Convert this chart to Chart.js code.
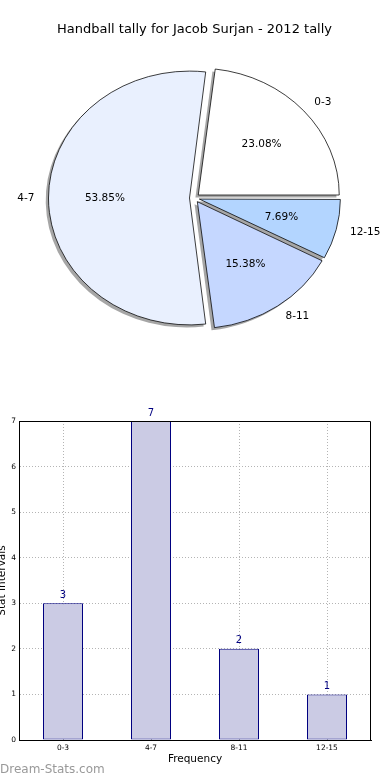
<!DOCTYPE html>
<html><head><meta charset="utf-8">
<script src="https://cdn.jsdelivr.net/npm/chart.js@4.4.1/dist/chart.umd.min.js"></script>
<style>
html,body{margin:0;padding:0;background:#fff;width:390px;height:780px;overflow:hidden;}
#pieWrap{position:absolute;left:0;top:0;width:390px;height:400px;}
#barWrap{position:absolute;left:0;top:400px;width:390px;height:380px;}
#wm{position:absolute;left:0;top:762px;font:12px "DejaVu Sans";line-height:14px;color:#999;}
</style></head><body>
<div id="pieWrap"><canvas id="pie" width="390" height="400"></canvas></div>
<div id="barWrap"><canvas id="bar" width="390" height="380"></canvas></div>
<div id="wm">Dream-Stats.com</div>
<script>
const chartTitle = 'Handball tally for Jacob Surjan - 2012 tally';
const categories = ['0-3', '4-7', '8-11', '12-15'];
const counts = [3, 7, 2, 1];
const yTicks = [0, 1, 2, 3, 4, 5, 6, 7];
const pieColors = ['#ffffff', '#e9f0fe', '#c5d7ff', '#b3d5ff'];
const xTitle = 'Frequency';
const yTitle = 'Stat Intervals';

const FONT = 'DejaVu Sans';
const K = 0.9;              // vertical squash of the pie (ellipse)
const SHX = -2.8, SHY = 2.5; // shadow shift (screen px)

// matplotlib draws counter-clockwise from east; Chart.js draws clockwise, so reverse
const pieLabels = categories.slice().reverse();
const pieValues = counts.slice().reverse();
const pieBg = pieColors.slice().reverse();
const total = counts.reduce((a, b) => a + b, 0);

function arcGeom(a) {
  const off = (a.options.offset || 0) / 4;
  const fix = 1 - Math.sin(Math.min(Math.PI, a.circumference));
  const R = a.outerRadius + off * fix;
  const mid = (a.startAngle + a.endAngle) / 2;
  return {off, R, mid};
}

const piePlugin = {
  id: 'pieStyle',
  afterUpdate(chart) {
    const meta = chart.getDatasetMeta(0);
    meta.data.forEach(a => {
      const off = (a.options.offset || 0) / 4;
      const fix = 1 - Math.sin(Math.min(Math.PI, a.circumference));
      a.outerRadius = a.outerRadius - off * fix;
    });
  },
  beforeDatasetsDraw(chart) {
    const ctx = chart.ctx;
    const meta = chart.getDatasetMeta(0);
    const cx = meta.data[0].x, cy = meta.data[0].y;
    ctx.save();
    ctx.translate(cx, cy); ctx.scale(1, K); ctx.translate(-cx, -cy);
    meta.data.forEach(a => {
      const g = arcGeom(a);
      const x = a.x + Math.cos(g.mid) * g.off + SHX;
      const y = a.y + Math.sin(g.mid) * g.off + SHY / K;
      ctx.beginPath();
      ctx.moveTo(x, y);
      ctx.arc(x, y, g.R, a.startAngle, a.endAngle);
      ctx.closePath();
      ctx.fillStyle = 'rgba(77,77,77,0.5)';
      ctx.fill();
    });
  },
  afterDatasetsDraw(chart) {
    const ctx = chart.ctx;
    ctx.restore();
    const meta = chart.getDatasetMeta(0);
    ctx.save();
    ctx.font = '10.5px "' + FONT + '"';
    ctx.fillStyle = '#000';
    ctx.textBaseline = 'middle';
    meta.data.forEach((a, i) => {
      const g = arcGeom(a);
      const c = Math.cos(g.mid), s = Math.sin(g.mid);
      const pct = (pieValues[i] / total * 100).toFixed(2) + '%';
      ctx.textAlign = 'center';
      ctx.fillText(pct, a.x + (g.off + 0.6 * g.R) * c, a.y + (g.off + 0.6 * g.R) * s * K);
      ctx.textAlign = c > 0 ? 'left' : 'right';
      ctx.fillText(pieLabels[i], a.x + (g.off + 1.1 * g.R) * c, a.y + (g.off + 1.1 * g.R) * s * K);
    });
    ctx.restore();
  }
};

new Chart(document.getElementById('pie'), {
  type: 'pie',
  data: {
    labels: pieLabels,
    datasets: [{
      data: pieValues,
      backgroundColor: pieBg,
      borderColor: '#000',
      borderWidth: 0.8,
      offset: 20
    }]
  },
  options: {
    responsive: false,
    animation: false,
    events: [],
    rotation: 90,
    radius: 141,
    layout: {padding: {left: 0, right: 1, top: 0, bottom: 41.6}},
    plugins: {
      legend: {display: false},
      tooltip: {enabled: false},
      title: {
        display: true, text: chartTitle, color: '#000',
        font: {family: FONT, size: 13, weight: 'normal'},
        padding: {top: 22, bottom: 0}
      }
    }
  },
  plugins: [piePlugin]
});

const framePlugin = {
  id: 'frame',
  afterDraw(chart) {
    const {ctx, chartArea: ca} = chart;
    ctx.save();
    ctx.strokeStyle = '#000';
    ctx.lineWidth = 1;
    const t = Math.round(ca.top) + 0.5, r = Math.round(ca.right) - 0.5;
    ctx.beginPath();
    ctx.moveTo(Math.round(ca.left), t);
    ctx.lineTo(r, t);
    ctx.lineTo(r, Math.round(ca.bottom));
    ctx.stroke();
    // value labels
    const meta = chart.getDatasetMeta(0);
    ctx.font = '10px "' + FONT + '"';
    ctx.fillStyle = '#000080';
    ctx.textAlign = 'center';
    ctx.textBaseline = 'alphabetic';
    meta.data.forEach((b, i) => {
      ctx.fillText(String(counts[i]), b.x, b.y - 5.5);
    });
    ctx.restore();
  }
};

const gridOpts = {color: '#b4b4b4', lineWidth: 1, drawTicks: false};
const borderOpts = {color: '#000', width: 1, dash: [1, 2]};

new Chart(document.getElementById('bar'), {
  type: 'bar',
  data: {
    labels: categories,
    datasets: [{
      data: counts,
      backgroundColor: '#cbcbe4',
      borderColor: '#000080',
      borderWidth: 1,
      borderSkipped: false,
      barPercentage: 40 / 88,
      categoryPercentage: 1
    }]
  },
  options: {
    responsive: false,
    animation: false,
    events: [],
    layout: {padding: {left: 0, right: 19, top: 21, bottom: 0}},
    plugins: {legend: {display: false}, tooltip: {enabled: false}},
    scales: {
      x: {
        z: 1,
        offset: true,
        grid: Object.assign({offset: false}, gridOpts),
        border: borderOpts,
        ticks: {font: {family: FONT, size: 7.5}, color: '#000', padding: 4, maxRotation: 0},
        title: {display: true, text: xTitle, color: '#000', font: {family: FONT, size: 10.5}, padding: {top: 0, bottom: 14}},
        afterFit: s => { s.height = 40; }
      },
      y: {
        z: 1,
        min: yTicks[0],
        max: yTicks[yTicks.length - 1],
        grid: gridOpts,
        border: borderOpts,
        ticks: {stepSize: 1, font: {family: FONT, size: 7.5}, color: '#000', padding: 3},
        title: {display: true, text: yTitle, color: '#000', font: {family: FONT, size: 10.5}, padding: {top: -4, bottom: 0}},
        afterFit: s => { s.width = 19; }
      }
    }
  },
  plugins: [framePlugin]
});
</script>
</body></html>
